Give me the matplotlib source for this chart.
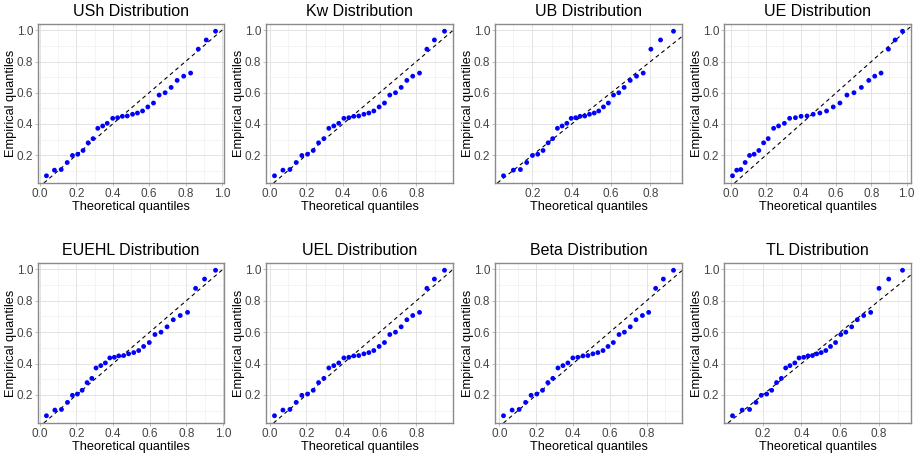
import numpy as np
import matplotlib
matplotlib.use("Agg")
import matplotlib.pyplot as plt
from matplotlib.ticker import MultipleLocator, FormatStrFormatter

plt.rcParams["font.family"] = ["Liberation Sans", "DejaVu Sans"]

# ── Data ──────────────────────────────────────────────────────────────────────

EMPIRICAL = [0.068, 0.104, 0.108, 0.153, 0.198, 0.206, 0.230, 0.279, 0.306, 0.372,
             0.387, 0.404, 0.436, 0.440, 0.449, 0.451, 0.462, 0.470, 0.483, 0.509,
             0.534, 0.585, 0.600, 0.634, 0.679, 0.706, 0.726, 0.879, 0.938, 0.994]

USH_Q = [0.036, 0.080, 0.117, 0.150, 0.179, 0.208, 0.237, 0.265, 0.292, 0.318,
         0.345, 0.370, 0.400, 0.427, 0.453, 0.480, 0.509, 0.536, 0.564, 0.593,
         0.624, 0.655, 0.688, 0.721, 0.754, 0.790, 0.828, 0.870, 0.914, 0.965]
KW_Q = [0.027, 0.073, 0.111, 0.145, 0.176, 0.207, 0.238, 0.267, 0.296, 0.323,
        0.350, 0.377, 0.405, 0.432, 0.459, 0.486, 0.514, 0.541, 0.568, 0.597,
        0.626, 0.655, 0.686, 0.717, 0.748, 0.780, 0.817, 0.857, 0.898, 0.953]
UB_Q = [0.053, 0.103, 0.139, 0.171, 0.200, 0.227, 0.254, 0.280, 0.303, 0.327,
        0.351, 0.375, 0.397, 0.420, 0.442, 0.466, 0.490, 0.514, 0.537, 0.561,
        0.586, 0.612, 0.639, 0.666, 0.697, 0.729, 0.763, 0.802, 0.851, 0.917]
UE_Q = [0.010, 0.034, 0.057, 0.082, 0.107, 0.133, 0.160, 0.187, 0.213, 0.244,
        0.272, 0.305, 0.335, 0.368, 0.400, 0.434, 0.469, 0.507, 0.545, 0.583,
        0.621, 0.661, 0.701, 0.743, 0.785, 0.819, 0.855, 0.897, 0.935, 0.977]
EUEHL_Q = [0.036, 0.082, 0.118, 0.151, 0.178, 0.205, 0.231, 0.258, 0.284, 0.307,
           0.333, 0.358, 0.382, 0.407, 0.431, 0.458, 0.485, 0.513, 0.540, 0.567,
           0.598, 0.629, 0.662, 0.695, 0.729, 0.767, 0.807, 0.851, 0.900, 0.960]
UEL_Q = [0.027, 0.073, 0.111, 0.145, 0.176, 0.207, 0.238, 0.267, 0.296, 0.323,
         0.350, 0.377, 0.405, 0.432, 0.459, 0.486, 0.514, 0.541, 0.568, 0.597,
         0.626, 0.655, 0.686, 0.717, 0.748, 0.780, 0.817, 0.857, 0.898, 0.953]
BETA_Q = [0.022, 0.069, 0.107, 0.142, 0.172, 0.203, 0.234, 0.263, 0.290, 0.318,
          0.345, 0.372, 0.399, 0.426, 0.454, 0.481, 0.508, 0.535, 0.563, 0.590,
          0.619, 0.650, 0.679, 0.711, 0.742, 0.777, 0.811, 0.849, 0.891, 0.946]
TL_Q = [0.045, 0.095, 0.133, 0.166, 0.193, 0.221, 0.247, 0.272, 0.297, 0.319,
        0.341, 0.366, 0.388, 0.412, 0.434, 0.457, 0.479, 0.502, 0.526, 0.550,
        0.576, 0.603, 0.629, 0.659, 0.688, 0.721, 0.757, 0.800, 0.850, 0.921]

NAMES = ["USh", "Kw", "UB", "UE", "EUEHL", "UEL", "Beta", "TL"]
THEO = [USH_Q, KW_Q, UB_Q, UE_Q, EUEHL_Q, UEL_Q, BETA_Q, TL_Q]

# ── Layout (pixel boxes of the panels) ────────────────────────────────────────

W, H = 915, 458
COLS = [(38, 224), (266, 453), (495, 682), (724, 911)]
ROWS = [(24, 183), (263, 423)]

BORDER = "#8A8A8A"
GRID_MAJ = "#E3E3E3"
GRID_MIN = "#F0F0F0"
TXT = "#444444"


def _limits(vals):
    lo, hi = min(vals), max(vals)
    pad = 0.05 * (hi - lo)
    return lo - pad, hi + pad


def qq_panel(ax, theo, emp, name):
    ax.set_axisbelow(True)
    ax.scatter(theo, emp, s=12, color="#0000FF", edgecolors="none", zorder=3)
    ax.axline((0, 0), slope=1, color="black", linestyle=(0, (3.5, 3)),
              linewidth=0.8, zorder=2)
    ax.set_xlim(*_limits(theo))
    ax.set_ylim(*_limits(emp))

    for axis in (ax.xaxis, ax.yaxis):
        axis.set_major_locator(MultipleLocator(0.2))
        axis.set_minor_locator(MultipleLocator(0.1))
        axis.set_major_formatter(FormatStrFormatter("%.1f"))
    ax.grid(which="major", color=GRID_MAJ, linewidth=0.7)
    ax.grid(which="minor", color=GRID_MIN, linewidth=0.5)
    ax.tick_params(which="major", length=2, width=0.6, color="#B3B3B3",
                   labelsize=8.5, labelcolor=TXT, pad=1.5)
    ax.tick_params(which="minor", length=0)
    for sp in ax.spines.values():
        sp.set_color(BORDER)
        sp.set_linewidth(1.0)

    ax.set_title(f"{name} Distribution", fontsize=11.5, pad=5.5)
    ax.set_xlabel("Theoretical quantiles", fontsize=9.2, labelpad=1)
    ax.set_ylabel("Empirical quantiles", fontsize=9.2, labelpad=0)


fig = plt.figure(figsize=(W / 100, H / 100), dpi=100)
for k, (name, theo) in enumerate(zip(NAMES, THEO)):
    (l, r), (t, b) = COLS[k % 4], ROWS[k // 4]
    ax = fig.add_axes([l / W, 1 - b / H, (r - l) / W, (b - t) / H])
    qq_panel(ax, theo, EMPIRICAL, name)

fig.savefig("out.png", dpi=100, facecolor="white")
